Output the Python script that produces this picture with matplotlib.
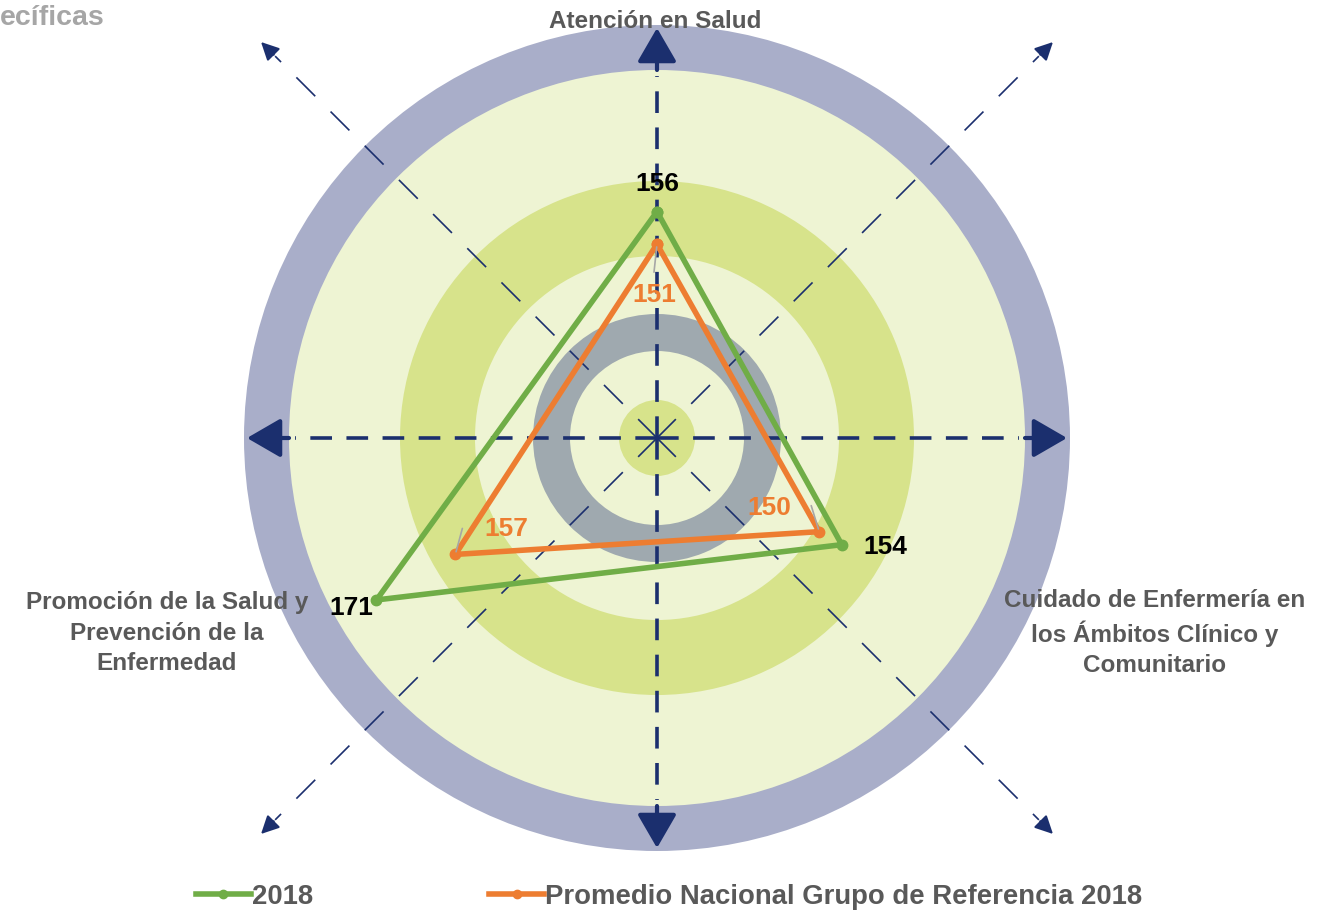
import numpy as np
import matplotlib.pyplot as plt
from matplotlib.patches import Circle, Wedge
from matplotlib.lines import Line2D

plt.rcParams['font.family'] = ['Liberation Sans', 'DejaVu Sans']

categories = ['Atención en Salud',
              'Cuidado de Enfermería en\nlos Ámbitos Clínico y\nComunitario',
              'Promoción de la Salud y\nPrevención de la\nEnfermedad']
serie_2018 = [156, 154, 171]
serie_promedio = [151, 150, 157]
legend_labels = ['2018', 'Promedio Nacional Grupo de Referencia 2018']

GREEN = '#70AD47'
ORANGE = '#ED7D31'
NAVY = '#1B2F6E'
GRAY_TXT = '#595959'

W, H = 1317, 913
fig = plt.figure(figsize=(W / 100, H / 100), dpi=100)
cx, cy, R = 657, 438, 413
ax = fig.add_axes([(cx - R) / W, (H - cy - R) / H, 2 * R / W, 2 * R / H],
                  projection='polar')
ax.set_theta_offset(np.pi / 2)
ax.set_theta_direction(-1)
ax.set_ylim(121.2, 184.7)
ax.grid(False)
ax.set_xticks([])
ax.set_yticks([])
ax.spines['polar'].set_visible(False)
ax.set_facecolor('none')

s = 0.5 / R  # pixels -> axes fraction
c = (0.5, 0.5)


def ring(r_out, r_in, color):
    ax.add_patch(Wedge(c, r_out * s, 0, 360, width=(r_out - r_in) * s,
                       color=color, transform=ax.transAxes, zorder=0,
                       clip_on=False, lw=0))


ax.add_patch(Circle(c, R * s, color='#A9AEC9', transform=ax.transAxes,
                    zorder=0, clip_on=False, lw=0))
ax.add_patch(Circle(c, 368 * s, color='#EEF4D3', transform=ax.transAxes,
                    zorder=0, clip_on=False, lw=0))
ring(257, 182, '#D7E38B')
ring(124, 87, '#9FA9AF')
ax.add_patch(Circle(c, 38 * s, color='#D7E38B', transform=ax.transAxes,
                    zorder=0, clip_on=False, lw=0))

# cardinal dashed axes with arrow heads
for ang in [0, 90, 180, 270]:
    a = np.deg2rad(ang)
    ux, uy = np.cos(a), np.sin(a)
    ax.plot([0.5, 0.5 + 362 * s * ux], [0.5, 0.5 + 362 * s * uy],
            transform=ax.transAxes, color=NAVY, lw=2.6,
            ls=(0, (6, 4)), zorder=1, clip_on=False)
    ax.annotate('', xy=(0.5 + 410 * s * ux, 0.5 + 410 * s * uy),
                xytext=(0.5 + 368 * s * ux, 0.5 + 368 * s * uy),
                xycoords=ax.transAxes,
                arrowprops=dict(arrowstyle='-|>,head_length=0.95,head_width=0.55',
                                mutation_scale=22, lw=3, color=NAVY,
                                shrinkA=0, shrinkB=0),
                zorder=1)

# diagonal dashed axes
for ang in [45, 135, 225, 315]:
    a = np.deg2rad(ang)
    ux, uy = np.cos(a), np.sin(a)
    ax.plot([0.5, 0.5 + 540 * s * ux], [0.5, 0.5 + 540 * s * uy],
            transform=ax.transAxes, color=NAVY, lw=1.2,
            ls=(0, (16, 13)), zorder=1, clip_on=False)
    ax.annotate('', xy=(0.5 + 560 * s * ux, 0.5 + 560 * s * uy),
                xytext=(0.5 + 542 * s * ux, 0.5 + 542 * s * uy),
                xycoords=ax.transAxes, annotation_clip=False,
                arrowprops=dict(arrowstyle='-|>,head_length=0.9,head_width=0.45',
                                mutation_scale=12, lw=1.5, color=NAVY,
                                shrinkA=0, shrinkB=0),
                zorder=1)

theta = np.linspace(0, 2 * np.pi, len(categories), endpoint=False)
tc = np.append(theta, theta[0])
ax.plot(tc, serie_2018 + serie_2018[:1], color=GREEN, lw=4,
        marker='o', ms=7.5, zorder=3, clip_on=False)
ax.plot(tc, serie_promedio + serie_promedio[:1], color=ORANGE, lw=4,
        marker='o', ms=7.5, zorder=4, clip_on=False)

# data labels
off_2018 = [(0, 28), (44, -2), (-25, -8)]
off_prom = [(-3, -51), (-50, 24), (51, 25)]
for t, v, o in zip(theta, serie_2018, off_2018):
    ax.annotate(str(v), (t, v), xytext=o, textcoords='offset pixels',
                ha='center', va='center', fontsize=19, fontweight='bold',
                color='black', zorder=6)
for t, v, o in zip(theta, serie_promedio, off_prom):
    ax.annotate(str(v), (t, v), xytext=o, textcoords='offset pixels',
                ha='center', va='center', fontsize=19, fontweight='bold',
                color=ORANGE, zorder=6)
# small leader lines
for t, v, o in zip(theta, serie_promedio, [(-3, -28), (-8, 26), (7, 26)]):
    ax.annotate('', (t, v), xytext=o, textcoords='offset pixels',
                arrowprops=dict(arrowstyle='-', color='#A6A6A6', lw=1.2,
                                shrinkA=0, shrinkB=2), zorder=5)

# category labels
fig.text(655 / W, 1 - 22 / H, categories[0], ha='center', va='center',
         fontsize=17.5, fontweight='bold', color=GRAY_TXT)
fig.text(1155 / W, 1 - 633 / H, categories[1], ha='center', va='center',
         fontsize=17.5, fontweight='bold', color=GRAY_TXT, linespacing=1.4)
fig.text(167 / W, 1 - 633 / H, categories[2], ha='center', va='center',
         fontsize=17.5, fontweight='bold', color=GRAY_TXT, linespacing=1.4)

fig.text(0, 1 - 18 / H, 'ecíficas', ha='left', va='center',
         fontsize=20.5, fontweight='bold', color='#A6A6A6')

handles = [Line2D([], [], color=GREEN, lw=4, marker='o', ms=6),
           Line2D([], [], color=ORANGE, lw=4, marker='o', ms=6)]
leg = fig.legend(handles, legend_labels, loc='center',
                 bbox_to_anchor=(669 / W, 1 - 897 / H), ncol=2, frameon=False,
                 handlelength=2.0, handletextpad=0.05, columnspacing=6.4,
                 prop={'size': 19.8, 'weight': 'bold'})
for txt in leg.get_texts():
    txt.set_color(GRAY_TXT)

fig.savefig('out.png', dpi=100)
